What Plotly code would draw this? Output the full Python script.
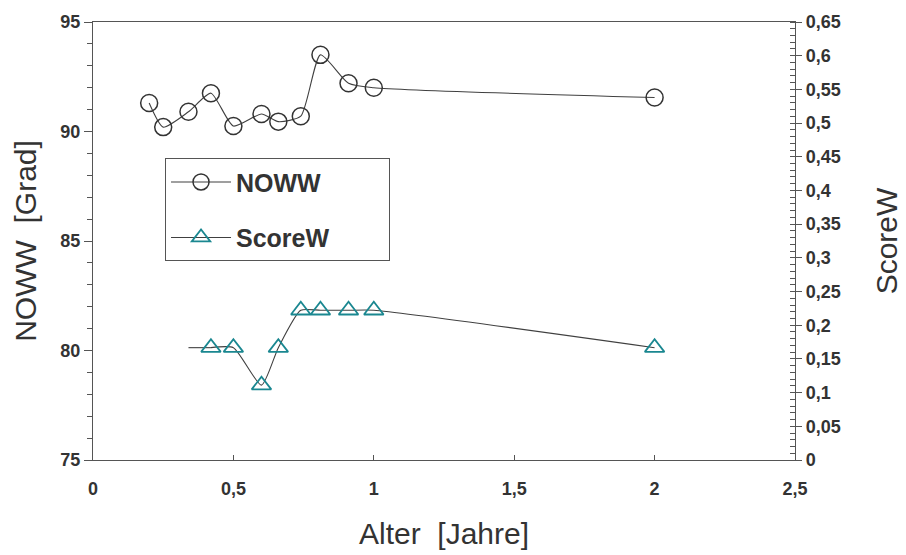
import plotly.graph_objects as go

# ---- data ----
alter_noww = [0.2, 0.25, 0.34, 0.42, 0.5, 0.6, 0.66, 0.74, 0.81, 0.91, 1.0, 2.0]
noww = [91.3, 90.2, 90.9, 91.75, 90.25, 90.8, 90.45, 90.7, 93.5, 92.2, 92.0, 91.55]

alter_score = [0.42, 0.5, 0.6, 0.66, 0.74, 0.81, 0.91, 1.0, 2.0]
scorew = [0.1667, 0.1667, 0.1111, 0.1667, 0.2222, 0.2222, 0.2222, 0.2222, 0.1667]

# ScoreW fitted line starts earlier (no marker there)
alter_score_lead = [0.34, 0.42]
scorew_lead = [0.1667, 0.1667]

FONT = "Liberation Sans, Arial, sans-serif"
LINE_COL = "#404040"
TEAL = "#1a8790"
NB = "\u00a0"

fig = go.Figure()

fig.add_trace(go.Scatter(
    x=alter_noww, y=noww, name="<b>NOWW</b>" + NB * 9, legendgroup="a",
    mode="lines+markers",
    line=dict(color=LINE_COL, width=1.1, shape="spline", smoothing=0.6),
    marker=dict(symbol="circle-open", size=17, color="#333333", line=dict(width=1.5)),
    yaxis="y",
))

fig.add_trace(go.Scatter(
    x=alter_score_lead, y=scorew_lead, showlegend=False,
    mode="lines", line=dict(color=LINE_COL, width=1.1),
    yaxis="y2",
))

fig.add_trace(go.Scatter(
    x=alter_score, y=scorew, name="<b>ScoreW</b>" + NB * 6, legendgroup="b",
    mode="lines+markers",
    line=dict(color=LINE_COL, width=1.1, shape="spline", smoothing=0.6),
    marker=dict(symbol="triangle-up-open", size=17, color=TEAL, line=dict(width=1.8)),
    yaxis="y2",
))

tickfont = dict(family=FONT, size=18, color="#333333", weight="bold")
titlefont = dict(family=FONT, size=30, color="#333333")

fig.update_layout(
    width=906, height=555,
    margin=dict(l=93, r=111, t=22, b=95),
    paper_bgcolor="white", plot_bgcolor="white",
    separators=",.",
    font=dict(family=FONT, color="#333333"),
    xaxis=dict(
        range=[0, 2.5], dtick=0.5, tick0=0, automargin=False,
        showgrid=False, zeroline=False,
        showline=True, linecolor="#555555", linewidth=1.2, mirror=True,
        ticks="inside", ticklen=5, tickcolor="#555555",
        tickfont=tickfont, ticklabelstandoff=12,
        title=dict(text="Alter " + NB + "[Jahre]", font=titlefont, standoff=25),
    ),
    yaxis=dict(
        range=[75, 95], dtick=5, tick0=75, automargin=False,
        showgrid=False, zeroline=False,
        showline=True, linecolor="#555555", linewidth=1.2,
        ticks="outside", ticklen=8, tickcolor="#555555",
        minor=dict(dtick=1, ticks="outside", ticklen=5, tickcolor="#555555"),
        tickfont=tickfont,
        title=dict(text="NOWW " + NB + "[Grad]", font=titlefont, standoff=14),
    ),
    yaxis2=dict(
        range=[0, 0.65], dtick=0.05, tick0=0, automargin=False,
        overlaying="y", side="right",
        showgrid=False, zeroline=False,
        showline=True, linecolor="#555555", linewidth=1.2,
        ticks="outside", ticklen=6, tickcolor="#555555",
        minor=dict(dtick=0.01, ticks="inside", ticklen=5, tickcolor="#555555"),
        tickfont=tickfont,
        title=dict(text="ScoreW", font=titlefont, standoff=36),
    ),
    legend=dict(
        x=0.1026, y=0.689, xanchor="left", yanchor="top",
        bgcolor="white", bordercolor="#555555", borderwidth=1,
        font=dict(family=FONT, size=25, color="#333333"),
        tracegroupgap=20, itemwidth=60,
    ),
    showlegend=True,
)

fig.write_html("out.html", config={"displayModeBar": False},
               post_script="document.body.style.margin='0';")
